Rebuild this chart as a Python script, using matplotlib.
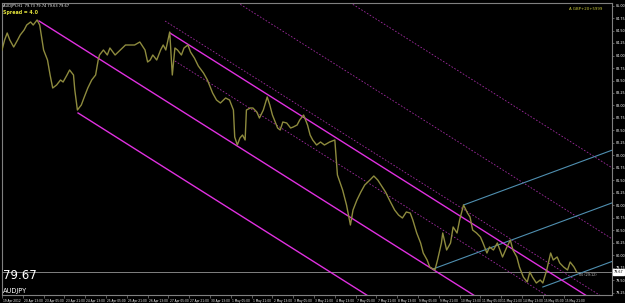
import matplotlib
matplotlib.use("Agg")
import matplotlib.pyplot as plt
import numpy as np

# ---------------- data ----------------
symbol = "AUDJPY"
last_price = 79.67

# bar index (H1 bars) and close price
bars = [0, 2, 4, 6, 9, 12, 14, 17, 19, 22, 24, 27, 29, 32, 35, 37, 39, 42, 45, 47, 50, 52, 55, 56, 58,
        61, 63, 66, 69, 72, 74, 75, 78, 81, 83, 87, 91, 95, 98, 102, 106, 110, 112, 114, 116, 119, 122,
        124, 126, 128, 129, 131, 133, 135, 138, 140, 143, 145, 148, 151, 155, 158, 162, 165, 168, 172,
        175, 178, 179, 181, 183, 185, 187, 188, 191, 193, 196, 198, 201, 204, 206, 208, 212, 214, 216,
        219, 222, 224, 227, 229, 232, 235, 237, 239, 242, 245, 248, 252, 256, 258, 262, 265, 268, 270,
        273, 276, 279, 283, 286, 289, 292, 295, 298, 302, 305, 308, 311, 314, 316, 319, 322, 324, 327,
        329, 333, 335, 338, 339, 342, 345, 347, 350, 352, 355, 358, 360, 362, 365, 368, 370, 373, 375,
        378, 381, 383, 385, 388, 391, 393, 396, 398, 401, 404, 406, 408, 411, 414, 416, 419, 422, 424,
        427, 429, 432, 435, 437, 440, 442]
closes = [84.11, 84.31, 84.45, 84.31, 84.17, 84.31, 84.41, 84.51, 84.61, 84.67, 84.61, 84.71, 84.61,
          84.11, 83.91, 83.61, 83.35, 83.41, 83.51, 83.47, 83.61, 83.71, 83.61, 83.31, 82.91,
          83.01, 83.15, 83.35, 83.51, 83.61, 83.91, 84.01, 84.11, 84.01, 84.15, 84.01, 84.11, 84.21,
          84.21, 84.21, 84.27, 84.11, 83.87, 83.91, 84.01, 83.91, 84.11, 84.21, 84.11, 84.35, 84.47,
          83.61, 84.15, 84.11, 84.01, 84.15, 84.21, 84.07, 83.95, 83.79, 83.65, 83.51, 83.25, 83.11,
          83.05, 83.15, 83.11, 82.91, 82.37, 82.21, 82.35, 82.41, 82.31, 82.91, 82.95, 82.95, 82.87,
          82.75, 82.91, 83.17, 83.01, 82.81, 82.55, 82.51, 82.67, 82.65, 82.55, 82.57, 82.61, 82.71,
          82.81, 82.61, 82.41, 82.31, 82.21, 82.27, 82.21, 82.27, 82.31, 81.61, 81.31, 81.01, 80.61,
          80.91, 81.11, 81.27, 81.41, 81.51, 81.59, 81.51, 81.39, 81.27, 81.11, 80.91, 80.81, 80.75,
          80.87, 80.85, 80.71, 80.45, 80.25, 80.05, 79.91, 79.77, 79.71, 79.91, 80.25, 80.45, 80.11,
          80.25, 80.57, 80.45, 80.71, 81.01, 80.85, 80.77, 80.51, 80.45, 80.37, 80.25, 80.05, 80.17,
          80.11, 80.25, 80.11, 79.97, 80.15, 80.31, 80.11, 79.97, 79.77, 79.57, 79.47, 79.67, 79.57,
          79.45, 79.51, 79.45, 79.71, 80.05, 79.91, 79.97, 79.85, 79.77, 79.71, 79.87, 79.77, 79.67]

# pitchfork (solid) lines: anchor bar, anchor price; common slope (price per bar)
fork_slope = -0.0164
fork_anchor_bars = [28.5, 58.5, 129.2]
fork_anchor_prices = [84.69, 82.85, 84.45]

# dashed parallels: anchor bar, price
dash_anchor_bars = [125.4, 133.0, 129.2, 129.2]
dash_anchor_prices = [84.69, 83.89, 85.91, 87.33]

# blue lines: anchor bar, anchor price; slope
blue_slope = 0.0096
blue_anchor_bars = [331.5, 355.0, 416.0]
blue_anchor_prices = [79.73, 81.01, 79.37]

# axis
price_ticks = [79.25 + 0.25 * i for i in range(24)]
time_tick_bars = [16 * i for i in range(28)]
time_labels = ["19 Apr 2012", "20 Apr 13:00", "23 Apr 05:00", "23 Apr 21:00", "24 Apr 13:00",
               "25 Apr 05:00", "25 Apr 21:00", "26 Apr 13:00", "27 Apr 05:00", "27 Apr 21:00",
               "30 Apr 13:00", "1 May 05:00", "1 May 21:00", "2 May 13:00", "3 May 05:00",
               "3 May 21:00", "4 May 13:00", "7 May 05:00", "7 May 21:00", "8 May 13:00",
               "9 May 05:00", "9 May 21:00", "10 May 13:00", "11 May 05:00", "11 May 21:00",
               "14 May 13:00", "15 May 05:00", "15 May 21:00"]

# ---------------- figure ----------------
W, H = 625, 303
fig = plt.figure(figsize=(W / 100, H / 100), dpi=100, facecolor="black")
ax = fig.add_axes([2 / W, 1 - 295 / H, 610 / W, 292.5 / H], facecolor="black")
x_max = 469.2
ax.set_xlim(0, x_max)
ax.set_ylim(79.21, 85.06)

grey = "#808080"
for s in ax.spines.values():
    s.set_color(grey)
    s.set_linewidth(0.8)

# bid line
ax.axhline(last_price, color=grey, lw=0.7, zorder=1)

# pitchfork lines
for b0, p0 in zip(fork_anchor_bars, fork_anchor_prices):
    xs = np.array([b0, x_max + 10])
    ax.plot(xs, p0 + fork_slope * (xs - b0), color="#e030e0", lw=1.0, zorder=3)
for b0, p0 in zip(dash_anchor_bars, dash_anchor_prices):
    xs = np.array([b0, x_max + 10])
    ax.plot(xs, p0 + fork_slope * (xs - b0), color="#a02ca0", lw=0.6,
            linestyle=(0, (2, 2)), zorder=2)
for b0, p0 in zip(blue_anchor_bars, blue_anchor_prices):
    xs = np.array([b0, x_max + 10])
    ax.plot(xs, p0 + blue_slope * (xs - b0), color="#4f8fb0", lw=0.8, zorder=2)

# price
ax.plot(bars, closes, color="#8e8b3e", lw=1.0, zorder=4)

# right price scale
ax.yaxis.tick_right()
ax.set_yticks(price_ticks)
ax.set_yticklabels([f"{v:.2f}" for v in price_ticks], fontsize=2.4, color="white")
ax.tick_params(axis="y", length=1.5, width=0.5, color=grey, pad=1)

# bottom time scale
ax.set_xticks(time_tick_bars)
ax.set_xticklabels([])
ax.tick_params(axis="x", length=2.5, width=0.5, color=grey, direction="out")
for b, lab in zip(time_tick_bars, time_labels):
    ax.text(b + 0.9, -0.012, lab, transform=ax.get_xaxis_transform(), fontsize=2.1,
            color="white", ha="left", va="top")

# current price box on the scale
ax.text(1.003, last_price, f"{last_price:.2f}", transform=ax.get_yaxis_transform(),
        fontsize=2.4, color="black", ha="left", va="center",
        bbox=dict(boxstyle="square,pad=0.25", fc="white", ec="white"), clip_on=False)

# overlay texts
ax.text(0.002, 0.995, "AUDJPY,H1  79.73 79.74 79.63 79.67", transform=ax.transAxes,
        fontsize=2.6, color="white", ha="left", va="top")
ax.text(0.002, 0.975, "Spread = 4.0", transform=ax.transAxes, fontsize=3.4,
        color="#e6e63c", ha="left", va="top", fontweight="bold")
ax.text(0.985, 0.985, "A GBP+20+5999", transform=ax.transAxes, fontsize=2.8,
        color="#c8c83c", ha="right", va="top")
ax.text(0.002, 0.045, f"{last_price:.2f}", transform=ax.transAxes, fontsize=8.5,
        color="white", ha="left", va="bottom")
ax.text(0.002, 0.004, symbol, transform=ax.transAxes, fontsize=4.8,
        color="white", ha="left", va="bottom")
ax.text(441 + 3, last_price - 0.02, "00 (29:12)", fontsize=2.4, color="#c0c0c0",
        ha="left", va="top")

fig.savefig("out.png", dpi=100, facecolor="black")
